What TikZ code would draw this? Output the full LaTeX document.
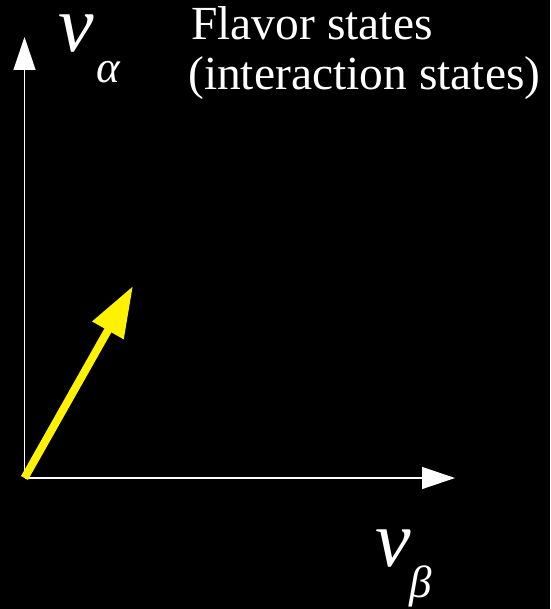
\documentclass[tikz,border=0pt]{standalone}
\usepackage{fontspec}
\newfontfamily\tnr{Liberation Serif}
\usetikzlibrary{arrows.meta}
\begin{document}
\begin{tikzpicture}[x=1pt,y=-1pt,
  axis/.style={white, line width=1.3pt, -{Triangle[length=33pt,width=22pt]}},
  vec/.style={yellow, line width=8pt, -{Triangle[length=51pt,width=34pt]}},
  lbl/.style={white, inner sep=0pt, anchor=base west, font=\tnr\fontsize{47.5}{50}\selectfont},
  bigsym/.style={white, inner sep=0pt, anchor=base west, font=\tnr\fontsize{80}{80}\selectfont\itshape},
  subsym/.style={white, inner sep=0pt, anchor=base west, font=\tnr\fontsize{45}{45}\selectfont\itshape}]
\fill[black] (0,0) rectangle (550,609);
\useasboundingbox (0,0) rectangle (550,609);
\coordinate (O) at (24.5,478);
\coordinate (Ytip) at (24.5,37);
\coordinate (Xtip) at (455,478);
\coordinate (V) at (133,286);
\draw[axis] (O) -- (Ytip);
\draw[axis] (O) -- (Xtip);
\draw[vec] (O) -- (V);
\node[bigsym] (nua) at (58,52) {\smash{ν}};
\node[subsym] (alpha) at (96,83) {α};
\node[lbl] (flavor) at (191,40) {Flavor states};
\node[lbl] (inter) at (188,90) {(interaction states)};
\node[bigsym] (nub) at (375,566) {ν};
\node[subsym] (beta) at (409,597) {\smash{β}};
\end{tikzpicture}
\end{document}
